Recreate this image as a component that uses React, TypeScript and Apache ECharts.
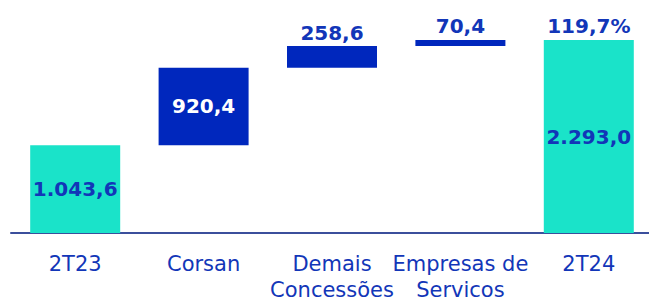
import React, { useEffect, useRef } from "react";
import * as echarts from "echarts";

const categories = ["2T23", "Corsan", "Demais\nConcessões", "Empresas de\nServicos", "2T24"];
const values = [1043.6, 920.4, 258.6, 70.4, 2293.0];
const isTotal = [true, false, false, false, true];
const valueLabels = ["1.043,6", "920,4", "258,6", "70,4", "2.293,0"];
const growthLabel = "119,7%";

const TEAL = "#1AE3C9";
const BLUE = "#0027BD";
const TEXT = "#1236B8";

export default function App() {
  const ref = useRef<HTMLDivElement>(null);
  useEffect(() => {
    if (!ref.current) return;
    const chart = echarts.init(ref.current, undefined, { renderer: "svg" });
    let run = 0;
    const base = values.map((v, i) => {
      if (isTotal[i]) {
        run = v;
        return 0;
      }
      const b = run;
      run += v;
      return b;
    });
    const labelCfg = [
      { position: "inside", color: TEXT, distance: 0 },
      { position: "inside", color: "#FFFFFF", distance: 0 },
      { position: "top", color: TEXT, distance: 3 },
      { position: "top", color: TEXT, distance: 4 },
      { position: "inside", color: TEXT, distance: 0 },
    ];
    const font = "DejaVu Sans";
    chart.setOption({
      animation: false,
      grid: { left: 11, right: 7, top: 40, bottom: 70, containLabel: false },
      xAxis: {
        type: "category",
        data: categories,
        axisLine: { show: true, lineStyle: { color: "#3B4F9C", width: 2 } },
        axisTick: { show: false },
        axisLabel: {
          interval: 0,
          margin: 18,
          color: TEXT,
          fontFamily: font,
          fontSize: 21,
          lineHeight: 26,
        },
      },
      yAxis: {
        type: "value",
        min: 0,
        max: 2293,
        show: false,
        splitLine: { show: false },
      },
      series: [
        {
          type: "bar",
          stack: "wf",
          barWidth: 90,
          silent: true,
          itemStyle: { color: "transparent" },
          data: base,
        },
        {
          type: "bar",
          stack: "wf",
          barWidth: 90,
          data: values.map((v, i) => ({
            value: v,
            itemStyle: { color: isTotal[i] ? TEAL : BLUE },
            label: {
              show: true,
              position: labelCfg[i].position,
              distance: labelCfg[i].distance,
              color: labelCfg[i].color,
              fontFamily: font,
              fontWeight: "bold",
              fontSize: 20,
              formatter: valueLabels[i],
            },
          })),
        },
        {
          type: "bar",
          barWidth: 90,
          barGap: "-100%",
          silent: true,
          itemStyle: { color: "transparent" },
          data: values.map((v, i) => (i === values.length - 1 ? v : "-")),
          label: {
            show: true,
            position: "top",
            distance: 4,
            color: TEXT,
            fontFamily: font,
            fontWeight: "bold",
            fontSize: 20,
            formatter: growthLabel,
          },
        },
      ],
    });
    return () => chart.dispose();
  }, []);
  return (
    <div style={{ position: "absolute", left: 0, top: 0, width: 649, height: 303, overflow: "hidden" }}>
      <div ref={ref} style={{ width: 660, height: 303 }} />
    </div>
  );
}
